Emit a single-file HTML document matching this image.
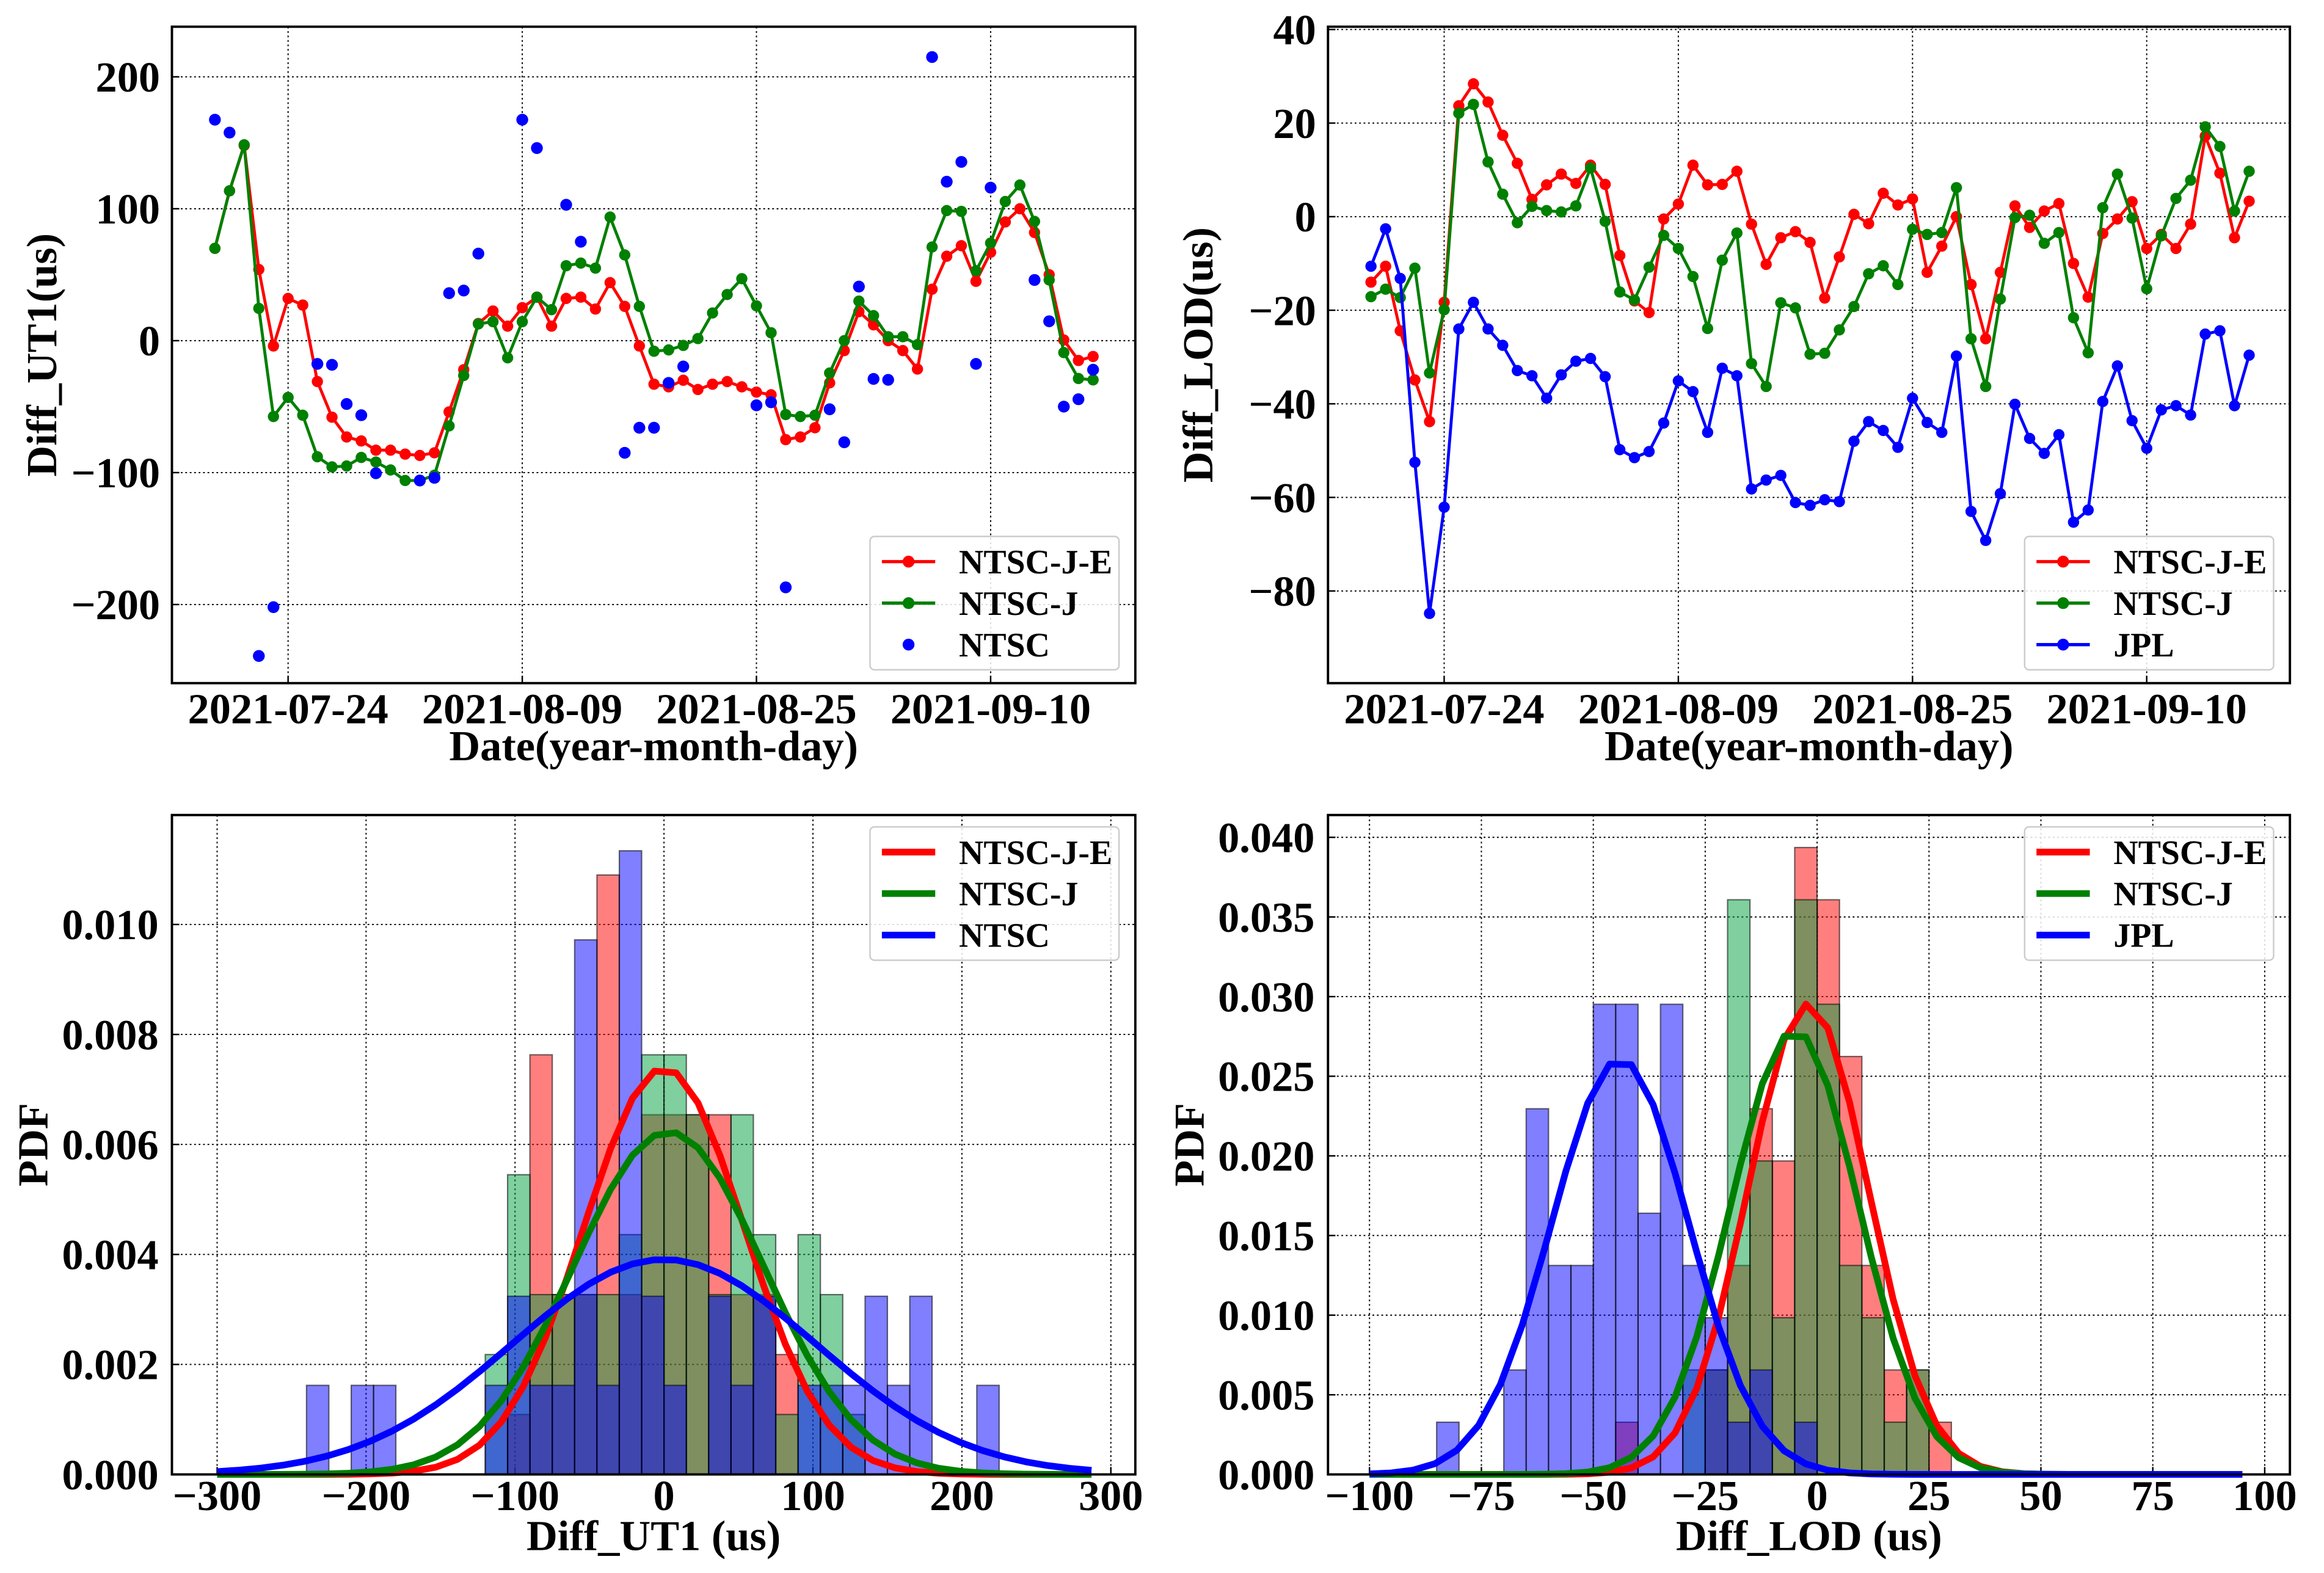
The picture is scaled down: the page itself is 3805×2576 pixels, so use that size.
<!DOCTYPE html>
<html><head><meta charset="utf-8"><style>
html,body{margin:0;padding:0;background:#fff;}
svg{display:block;}
text{font-family:"Liberation Serif",serif;font-weight:bold;fill:#000;}
</style></head>
<body>
<svg id="fig" xmlns="http://www.w3.org/2000/svg" width="3805" height="2576" viewBox="0 0 1568 1061.5"></svg>
<script>
// ---------- data ----------
const dateTickLabels = ["2021-07-24","2021-08-09","2021-08-25","2021-09-10"];
const dateTickDays = [5,21,37,53];
const ut1YTicks = [-200,-100,0,100,200];
const lodYTicks = [-80,-60,-40,-20,0,20,40];
const ut1Red = [70,113.6,148,54,-4,32,27,-31,-58,-73,-76,-83,-83,-86,-87,-85,-54,-22,13,22.5,11,25,33,11,32,33,24,44,26,-4,-33,-35,-30,-37,-33,-31,-35,-39,-41,-75,-73,-66,-32,-7.5,22,12,0,-7.5,-21.5,39,64,72,45,67,90,100,82,50,0.5,-15,-12];
const ut1Green = [70,113.6,148.5,24.5,-57.5,-43,-56.5,-88,-95.7,-95,-88.5,-92,-98,-106,-106,-102,-64.6,-26.4,12.7,14.4,-13,14.4,33,23.5,56.8,58.8,55,93.7,65,26,-8,-7,-3.6,1.6,21,35,47,26.4,6,-56,-57.5,-56.5,-24.5,0,30,19,3,3,-3,71,98.6,98,53,74,105.5,118,90.4,46,-9,-28.7,-29.7];
const ntscDays = [0,1,3,4,7,8,9,10,11,14,15,16,17,18,21,22,24,25,28,29,30,31,32,37,38,39,42,43,44,45,46,49,50,51,52,53,56,57,58,59,60];
const ntscVals = [167.5,157.7,-239,-202,-17.6,-18.3,-48,-56.5,-100.5,-106,-104,36,38,66,167.5,146,103,75,-85,-66,-66,-32,-19.6,-49,-46.7,-187,-52,-77,41,-29,-29.7,215,120.5,135.5,-17.6,116,46,14.7,-50,-44.4,-22];
const lodRed = [-14,-10.6,-24.4,-34.9,-43.8,-18.3,23.7,28.4,24.5,17.4,11.4,3.7,6.8,9.1,7.1,11,6.9,-8.3,-18,-20.5,-0.5,2.7,11,6.8,6.9,9.7,-1.6,-10.2,-4.5,-3.2,-5.5,-17.4,-8.6,0.5,-1.5,5,2.5,3.8,-11.9,-6.3,0,-14.5,-26.1,-11.9,2.3,-2.3,1.2,2.8,-10,-17.2,-3.6,-0.5,3.2,-6.8,-3.8,-6.8,-1.6,17.2,9.3,-4.5,3.3];
const lodGreen = [-17.1,-15.5,-17.3,-11,-33.4,-19.9,22.1,24,11.7,4.8,-1.3,2.2,1.3,1,2.3,10.4,-1,-16.1,-17.8,-10.8,-4,-6.8,-12.8,-23.9,-9.3,-3.5,-31.4,-36.3,-18.4,-19.5,-29.4,-29.2,-24.2,-19.2,-12.2,-10.5,-14.5,-2.7,-3.8,-3.4,6.2,-26.1,-36.3,-17.6,-0.2,0.3,-5.7,-3.4,-21.6,-29.1,1.9,9.1,-0.3,-15.4,-4.1,3.9,7.8,19.2,15,1.2,9.7];
const lodJpl = [-10.6,-2.6,-13.2,-52.5,-84.8,-62.1,-24,-18.3,-24,-27.5,-32.9,-34,-38.8,-33.8,-30.9,-30.3,-34.2,-49.8,-51.5,-50.2,-44.1,-35.1,-37.4,-46.1,-32.4,-34,-58.2,-56.3,-55.3,-61.1,-61.7,-60.5,-60.9,-48,-43.8,-45.7,-49.3,-38.8,-44,-46.1,-29.8,-63,-69.2,-59.2,-40.1,-47.4,-50.6,-46.6,-65.3,-62.7,-39.5,-31.9,-43.6,-49.5,-41.3,-40.4,-42.4,-25.1,-24.4,-40.4,-29.6];

// Histogram UT1: bins of width 15 starting at -240
const ut1BinStart = -240, ut1BinWidth = 15;
const ut1HistRed   = [0,0,0,0,0,0,0,0,0,1,7,3,3,10,3,6,6,6,6,3,3,2,0,0,0,0,0,0,0,0,0];
const ut1HistGreen = [0,0,0,0,0,0,0,0,2,5,3,3,3,3,4,7,7,6,3,6,4,1,4,3,1,0,0,0,0,0,0];
const ut1HistBlue  = [1,0,1,1,0,0,0,0,1,2,1,1,6,1,7,2,1,0,2,1,2,0,1,1,1,2,1,2,0,0,1];
const ut1CountUnitRGB = 0.00109, ut1CountUnitBlue = 0.00162;
const ut1Fit = {red:[0,54], green:[3,64], blue:[0,102]};
const ut1XTicks = [-300,-200,-100,0,100,200,300];
const ut1PdfTicks = [0,0.002,0.004,0.006,0.008,0.010];
// Histogram LOD: bins of width 5 starting at -85
const lodBinStart = -85, lodBinWidth = 5;
const lodHistRed   = [0,0,0,0,0,0,0,0,1,0,0,0,2,4,7,6,12,11,8,4,2,2,1,0];
const lodHistGreen = [0,0,0,0,0,0,0,0,0,0,0,2,2,11,6,3,11,9,4,3,1,2,0,0];
const lodHistBlue  = [1,0,0,2,7,4,4,9,9,5,9,4,3,1,2,0,1,0,0,0,0,0,0,0];
const lodCountUnit = 0.00328;
const lodFit = {red:[-2,13.5], green:[-5,14.3], blue:[-44,15.3]};
const lodXTicks = [-100,-75,-50,-25,0,25,50,75,100];
const lodPdfTicks = [0,0.005,0.010,0.015,0.020,0.025,0.030,0.035,0.040];
const lodPdfLabels = ["0.000","0.005","0.010","0.015","0.020","0.025","0.030","0.035","0.040"];
const ut1PdfLabels = ["0.000","0.002","0.004","0.006","0.008","0.010"];

// ---------- helpers ----------
const NS = "http://www.w3.org/2000/svg";
const svg = document.getElementById("fig");
const TICK_FS = 29, TITLE_FS = 29, LEG_FS = 23;
function mk(tag, attrs, parent){
  const e = document.createElementNS(NS, tag);
  for (const k in attrs) e.setAttribute(k, attrs[k]);
  (parent||svg).appendChild(e);
  return e;
}
function txt(s, x, y, size, anchor, parent){
  const t = mk("text", {x:x, y:y, "font-size":size, "text-anchor":anchor||"middle"}, parent);
  t.textContent = s;
  return t;
}
function pts(arr){ return arr.map(p=>p[0].toFixed(2)+","+p[1].toFixed(2)).join(" "); }
function gauss(x, m, s){ return Math.exp(-0.5*((x-m)/s)**2)/(s*Math.sqrt(2*Math.PI)); }

function frame(g, L, T, R, B){
  const f = mk("rect", {x:L, y:T, width:R-L, height:B-T, fill:"none", stroke:"#000", "stroke-width":1.6}, g);
  
  
}
function vgrid(g, x, T, B){
  const l = mk("line", {x1:x, x2:x, y1:T, y2:B, stroke:"#000", "stroke-width":0.8, "stroke-dasharray":"1.2,1.8"}, g);
  
  
  const t = mk("line", {x1:x, x2:x, y1:B, y2:B-5, stroke:"#000", "stroke-width":1}, g);
  
  
}
function hgrid(g, y, L, R){
  const l = mk("line", {x1:L, x2:R, y1:y, y2:y, stroke:"#000", "stroke-width":0.8, "stroke-dasharray":"1.2,1.8"}, g);
  
  
  const t = mk("line", {x1:L, x2:L+5, y1:y, y2:y, stroke:"#000", "stroke-width":1}, g);
  
  
}
function legend(g, x, y, entries, kind){
  const box = mk("rect", {x:x, y:y, width:168, height:90, rx:3, fill:"#fff", "fill-opacity":0.85, stroke:"#ccc", "stroke-width":1}, g);
  
  
  entries.forEach((en, i) => {
    const ey = y + 17 + i*28;
    const eg = mk("g", {}, g);
    
    
    if (kind === "thick") {
      mk("line", {x1:x+8, x2:x+44, y1:ey, y2:ey, stroke:en[1], "stroke-width":4.5}, eg);
    } else if (en[2] === "dot") {
      mk("circle", {cx:x+26, cy:ey, r:4, fill:en[1]}, eg);
    } else {
      mk("line", {x1:x+8, x2:x+44, y1:ey, y2:ey, stroke:en[1], "stroke-width":2.2}, eg);
      mk("circle", {cx:x+26, cy:ey, r:4, fill:en[1]}, eg);
    }
    txt(en[0], x+60, ey+8, LEG_FS, "start", eg);
  });
}

// ---------- time-series panel ----------
function timePanel(name, L, T, R, B, x0, dx, yMin, yMax, yTicks, series, scatter, ylabel, leg){
  const g = mk("g", {});
  
  
  const xs = d => x0 + d*dx;
  const ys = v => B - (v - yMin)/(yMax - yMin)*(B - T);
  dateTickDays.forEach((d, i) => {
    vgrid(g, xs(d), T, B);
    const t = txt(dateTickLabels[i], xs(d), B+27, TICK_FS, "middle", g);
    
    
  });
  yTicks.forEach(v => {
    hgrid(g, ys(v), L, R);
    const t = txt(v < 0 ? "\u2212" + (-v) : String(v), L-8, ys(v)+10, TICK_FS, "end", g);
    
    
  });
  series.forEach(s => {
    const sg = mk("g", {}, g);
    
    
    const p = s.data.map((v, i) => [xs(i), ys(v)]);
    const pl = mk("polyline", {points:pts(p), fill:"none", stroke:s.color, "stroke-width":2}, sg);
    
    
    p.forEach(q => {
      const c = mk("circle", {cx:q[0], cy:q[1], r:3.8, fill:s.color}, sg);
      
      
    });
  });
  if (scatter) {
    const sg = mk("g", {}, g);
    
    
    scatter.days.forEach((d, i) => {
      const c = mk("circle", {cx:xs(d), cy:ys(scatter.vals[i]), r:4, fill:"#0000ff"}, sg);
      
      
    });
  }
  frame(g, L, T, R, B);
  const xl = txt("Date(year-month-day)", (L+R)/2, B+52, TITLE_FS, "middle", g);
  
  
  const cy = (T+B)/2;
  const yl = txt(ylabel, 0, 0, TITLE_FS, "middle", g);
  yl.setAttribute("transform", "translate(" + (L-78) + "," + cy + ") rotate(-90)");
  
  
  legend(g, R-179, B-99, leg.entries, leg.kind);
}

// ---------- histogram panel ----------
function histPanel(name, L, T, R, B, x0px, pxPerUnit, yMax, binStart, binW, hists, fits, curveRange, xTicks, yTicks, yLabels, xlabel, leg){
  const g = mk("g", {});
  
  
  const xs = v => x0px + v*pxPerUnit;
  const ys = v => B - v/yMax*(B - T);
  xTicks.forEach(v => {
    vgrid(g, xs(v), T, B);
    const t = txt(v < 0 ? "\u2212" + (-v) : String(v), xs(v), B+24, TICK_FS, "middle", g);
    
    
  });
  yTicks.forEach((v, i) => {
    hgrid(g, ys(v), L, R);
    const t = txt(yLabels[i], L-9, ys(v)+10, TICK_FS, "end", g);
    
    
  });
  hists.forEach(h => {
    const hg = mk("g", {}, g);
    
    
    h.counts.forEach((c, i) => {
      if (!c) return;
      const a = binStart + i*binW;
      const r = mk("rect", {x:xs(a), y:ys(c*h.unit), width:binW*pxPerUnit, height:c*h.unit/yMax*(B-T), fill:h.color, "fill-opacity":0.5, stroke:"#000", "stroke-opacity":0.55, "stroke-width":0.9}, hg);
      
      
    });
  });
  fits.forEach(f => {
    const p = [];
    const n = 40;
    for (let i = 0; i <= n; i++) {
      const x = curveRange[0] + (curveRange[1]-curveRange[0])*i/n;
      p.push([xs(x), ys(gauss(x, f.mu, f.sd))]);
    }
    const pl = mk("polyline", {points:pts(p), fill:"none", stroke:f.color, "stroke-width":4.5, "stroke-linejoin":"round"}, g);
    
    
  });
  frame(g, L, T, R, B);
  const xl = txt(xlabel, (L+R)/2, B+51, TITLE_FS, "middle", g);
  
  
  const yl = txt("PDF", 0, 0, TITLE_FS, "middle", g);
  yl.setAttribute("transform", "translate(" + (L-84) + "," + ((T+B)/2) + ") rotate(-90)");
  
  
  legend(g, R-179, T+8, leg, "thick");
}

// ---------- build ----------
timePanel("panel-ut1-series", 116, 18, 766, 461, 145, 9.875, -259.6, 238, ut1YTicks,
  [{name:"ntsc-j-e", data:ut1Red, color:"#ff0000"},{name:"ntsc-j", data:ut1Green, color:"#008000"}],
  {days:ntscDays, vals:ntscVals}, "Diff_UT1(us)",
  {kind:"mixed", entries:[["NTSC-J-E","#ff0000"],["NTSC-J","#008000"],["NTSC","#0000ff","dot"]]});

timePanel("panel-lod-series", 896, 18, 1545, 461, 925, 9.875, -99.7, 40.6, lodYTicks,
  [{name:"ntsc-j-e", data:lodRed, color:"#ff0000"},{name:"ntsc-j", data:lodGreen, color:"#008000"},{name:"jpl", data:lodJpl, color:"#0000ff"}],
  null, "Diff_LOD(us)",
  {kind:"line", entries:[["NTSC-J-E","#ff0000"],["NTSC-J","#008000"],["JPL","#0000ff"]]});

histPanel("panel-ut1-pdf", 116, 550, 766, 995, 448, 1.005, 0.01199, ut1BinStart, ut1BinWidth,
  [{name:"ntsc-j-e", counts:ut1HistRed, unit:ut1CountUnitRGB, color:"#ff0000"},
   {name:"ntsc-j", counts:ut1HistGreen, unit:ut1CountUnitRGB, color:"#00a040"},
   {name:"ntsc", counts:ut1HistBlue, unit:ut1CountUnitBlue, color:"#0000ff"}],
  [{name:"ntsc-j-e", mu:ut1Fit.red[0], sd:ut1Fit.red[1], color:"#ff0000"},
   {name:"ntsc-j", mu:ut1Fit.green[0], sd:ut1Fit.green[1], color:"#008000"},
   {name:"ntsc", mu:ut1Fit.blue[0], sd:ut1Fit.blue[1], color:"#0000ff"}],
  [-300, 287], ut1XTicks, ut1PdfTicks, ut1PdfLabels, "Diff_UT1 (us)",
  [["NTSC-J-E","#ff0000"],["NTSC-J","#008000"],["NTSC","#0000ff"]]);

histPanel("panel-lod-pdf", 896, 550, 1545, 995, 1226, 3.02, 0.0414, lodBinStart, lodBinWidth,
  [{name:"ntsc-j-e", counts:lodHistRed, unit:lodCountUnit, color:"#ff0000"},
   {name:"ntsc-j", counts:lodHistGreen, unit:lodCountUnit, color:"#00a040"},
   {name:"jpl", counts:lodHistBlue, unit:lodCountUnit, color:"#0000ff"}],
  [{name:"ntsc-j-e", mu:lodFit.red[0], sd:lodFit.red[1], color:"#ff0000"},
   {name:"ntsc-j", mu:lodFit.green[0], sd:lodFit.green[1], color:"#008000"},
   {name:"jpl", mu:lodFit.blue[0], sd:lodFit.blue[1], color:"#0000ff"}],
  [-100, 95], lodXTicks, lodPdfTicks, lodPdfLabels, "Diff_LOD (us)",
  [["NTSC-J-E","#ff0000"],["NTSC-J","#008000"],["JPL","#0000ff"]]);
</script>
</body></html>
